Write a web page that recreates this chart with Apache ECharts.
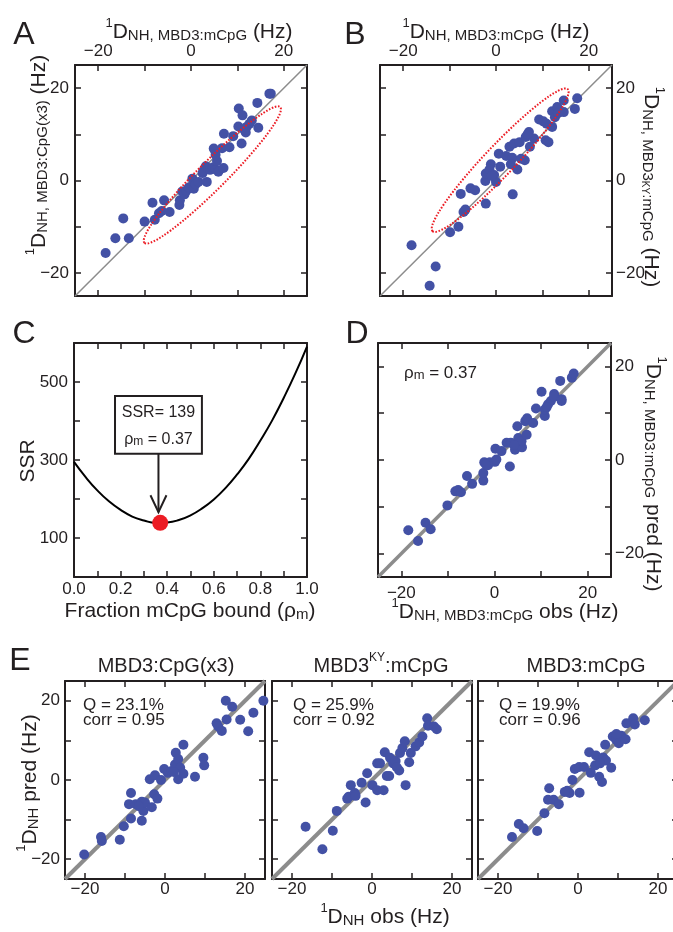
<!DOCTYPE html>
<html><head><meta charset="utf-8">
<script src="https://cdn.jsdelivr.net/npm/echarts@6/dist/echarts.min.js"></script>
<style>html,body{margin:0;padding:0;background:#fff}#c{width:673px;height:932px}</style>
</head><body><div id="c"></div>
<script>
// ---------- data ----------
const hzTicks = [-20, -10, 0, 10, 20];
const hzLabels = [-20, 0, 20];
const fracTicks = [0, 0.1, 0.2, 0.3, 0.4, 0.5, 0.6, 0.7, 0.8, 0.9, 1.0];
const fracLabels = [0, 0.2, 0.4, 0.6, 0.8, 1.0];
const ssrTicks = [100, 200, 300, 400, 500];
const ssrLabels = [100, 300, 500];
const diag = [-25, 25];

// Panel A: x = 1D_NH MBD3:mCpG, y = 1D_NH MBD3:CpG(x3)
const panelA = [[-18.4,-15.7],[-16.3,-12.5],[-14.6,-8.2],[-13.4,-12.5],[-10.0,-8.9],[-8.3,-4.8],[-7.8,-8.5],[-6.9,-7.1],[-6.3,-6.6],[-5.8,-4.3],[-4.6,-6.8],[-2.5,-5.3],[-2.4,-4.3],[-1.9,-2.4],[-1.4,-3.0],[-1.0,-2.2],[-0.5,-1.5],[0.3,0.4],[0.6,-1.8],[1.0,-0.8],[1.6,-0.3],[2.5,1.6],[2.7,2.1],[3.2,3.1],[3.4,-0.3],[3.7,2.6],[4.1,2.3],[4.7,2.8],[5.3,2.4],[5.9,1.9],[7.0,2.7],[5.6,4.2],[4.9,6.9],[5.3,5.6],[6.7,7.0],[8.3,7.2],[7.1,10.1],[9.1,9.6],[10.9,8.0],[10.3,15.6],[11.1,14.1],[10.2,11.7],[11.8,10.4],[12.0,11.6],[12.6,12.3],[13.1,13.0],[14.5,11.4],[14.3,16.8],[16.9,18.8],[17.2,18.8],[11.5,11.0]];
// Panel B: x = 1D_NH MBD3:mCpG, y = 1D_NH MBD3KY:mCpG
const panelB = [[-18.2,-14.0],[-13.0,-18.6],[-14.3,-22.8],[-9.9,-11.2],[-8.1,-10.0],[-7.0,-6.8],[-6.6,-6.3],[-7.6,-2.9],[-5.5,-1.7],[-4.5,-2.1],[-2.2,-5.0],[-2.3,-0.1],[-2.2,1.5],[-1.1,3.5],[-1.4,2.4],[-0.4,1.2],[0.0,-0.3],[-0.9,1.0],[0.9,3.0],[0.6,5.8],[2.2,5.3],[3.5,4.9],[3.2,3.5],[4.6,2.4],[3.6,-3.0],[6.2,4.4],[5.4,4.7],[2.9,7.3],[3.9,8.0],[5.1,8.3],[6.4,9.4],[7.1,10.5],[8.2,9.1],[7.3,7.3],[9.3,13.2],[10.2,12.8],[10.9,12.3],[10.7,8.7],[11.3,8.3],[12.1,11.6],[12.1,15.0],[13.2,15.9],[12.7,13.7],[13.4,14.6],[14.6,17.3],[14.6,14.8],[17.0,15.5],[17.5,17.8],[6.8,10.0]];
// Panel C: SSR vs fraction mCpG bound
const rho = [0, 0.05, 0.1, 0.15, 0.2, 0.25, 0.3, 0.35, 0.4, 0.45, 0.5, 0.55, 0.6, 0.65, 0.7, 0.75, 0.8, 0.85, 0.9, 0.95, 1.0];
const ssr = [295, 256, 222, 194, 172, 155, 145, 139, 140, 146, 158, 176, 199, 228, 263, 303, 350, 401, 459, 522, 591];
const bestRho = 0.37;
const bestSSR = 139;
// Panel D: obs vs pred
const panelD = [[-18.5,-15.0],[-16.4,-17.3],[-14.8,-13.4],[-13.7,-14.8],[-10.1,-9.7],[-8.4,-6.7],[-7.8,-6.4],[-7.2,-6.9],[-5.9,-3.4],[-4.8,-5.1],[-2.4,-4.4],[-2.4,-2.8],[-2.2,-0.5],[-1.4,-1.1],[-1.0,-0.5],[-1.8,-1.0],[0.1,-0.4],[0.4,0.1],[0.2,2.4],[1.5,1.9],[3.3,-1.4],[2.6,3.7],[3.5,3.7],[4.4,2.2],[5.1,4.7],[4.9,7.2],[5.9,2.7],[5.8,4.0],[4.2,3.2],[6.9,5.4],[6.6,8.3],[7.0,8.9],[8.3,7.9],[8.9,11.0],[10.1,14.6],[10.8,9.4],[10.8,10.8],[11.5,11.9],[12.1,12.6],[12.8,14.1],[12.8,13.5],[14.4,13.0],[14.4,12.6],[14.1,16.9],[16.6,17.6],[17.0,18.5],[11.2,11.3]];
// Panel E
const panelE1 = [[-20.2,-18.8],[-16.0,-14.4],[-15.8,-15.4],[-11.3,-15.1],[-10.3,-11.7],[-8.5,-9.7],[-8.5,-3.3],[-9.0,-6.1],[-7.3,-6.1],[-5.8,-5.5],[-5.8,-10.3],[-5.4,-7.8],[-5.0,-5.7],[-6.5,-6.6],[-3.3,-6.9],[-3.8,0.2],[-2.5,1.2],[-2.7,-3.6],[-1.9,-4.7],[-1.0,0.0],[-0.2,2.8],[0.7,1.8],[1.7,2.3],[2.5,3.9],[2.7,6.9],[3.3,5.3],[3.3,0.2],[3.8,3.1],[4.6,8.9],[4.6,1.6],[2.2,2.0],[7.5,0.8],[9.6,5.6],[9.8,3.7],[12.9,14.3],[13.3,13.5],[14.2,12.4],[15.4,15.3],[15.2,20.0],[16.8,18.5],[18.8,15.2],[20.8,12.3],[22.1,17.0],[24.6,20.0]];
const panelE2 = [[-16.6,-11.8],[-12.4,-17.5],[-9.8,-12.8],[-8.8,-7.8],[-6.2,-4.7],[-5.8,-4.2],[-5.3,-1.3],[-4.3,-3.3],[-4.1,-4.0],[-2.6,-0.7],[-1.6,-5.7],[-1.2,1.7],[0.1,-1.3],[1.3,-2.6],[2.9,-2.6],[1.3,4.2],[3.2,7.0],[3.7,1.0],[4.3,1.0],[4.5,5.6],[5.3,4.2],[5.9,4.8],[6.8,2.4],[7.0,6.8],[7.6,8.1],[8.2,9.8],[8.4,-1.3],[9.3,4.5],[9.7,6.8],[10.9,8.5],[11.8,9.5],[12.6,11.0],[13.8,15.6],[14.0,13.7],[15.5,13.5],[16.2,12.8],[2.0,4.2],[6.2,3.2]];
const panelE3 = [[-16.5,-14.4],[-14.8,-11.1],[-13.6,-12.2],[-10.2,-12.9],[-8.4,-8.4],[-7.2,-2.1],[-7.5,-5.0],[-6.1,-5.0],[-4.8,-6.1],[-2.7,-2.7],[-2.1,-3.3],[-1.4,0.0],[-0.8,2.8],[0.3,3.3],[0.4,-3.2],[1.5,3.3],[2.8,7.0],[3.2,1.8],[4.3,3.7],[4.5,6.2],[5.3,0.8],[6.0,-0.5],[6.3,5.7],[6.8,8.9],[7.0,4.9],[8.3,3.1],[8.7,11.0],[9.5,10.2],[10.2,9.3],[10.8,11.2],[11.9,10.3],[12.1,14.3],[13.8,15.6],[14.2,14.0],[16.7,15.1],[5.5,4.2],[9.6,11.6],[-3.3,-3.0]];
const eTitles = ['MBD3:CpG(x3)', 'MBD3KY:mCpG', 'MBD3:mCpG'];
const eQ = ['23.1%', '25.9%', '19.9%'];
const eCorr = ['0.95', '0.92', '0.96'];
// ellipse centres (data units) in panels A and B
const ellipseA = [4.6, 1.2];
const ellipseB = [0.9, 4.4];

// ---------- styles ----------
const FONT = "'Liberation Sans', Arial, Helvetica, sans-serif";
const INK = '#231f20';
const DOT = '#4351a5';
const GRAY = '#8c8c8c';
const RED = '#ec1c24';

function tok(size, lh, va) { return {fontSize: size, lineHeight: lh, verticalAlign: va, fontFamily: FONT, fill: INK}; }
const RICH = {
  sup: tok(13, 13, 'top'),
  m: tok(21, 26, 'bottom'),
  s: tok(15, 18, 'bottom'),
  ky: tok(10, 26, 'bottom'),
  t: tok(16, 20, 'bottom'),
  ts: tok(12, 16, 'bottom'),
  q: tok(17, 20, 'bottom'),
  qs: tok(13, 16, 'bottom'),
  e: tok(20, 24, 'bottom'),
  esup: tok(12, 12, 'top'),
  L: tok(32, 36, 'bottom')
};

const fmtHz = v => (v < 0 ? '\u2212' : '') + Math.abs(v);
const fmtFrac = v => v.toFixed(1);

function axis(g, pos, min, max, ticks, labels, labeled, fmt, margin) {
  return {
    type: 'value', gridIndex: g, position: pos, min: min, max: max,
    axisLine: {show: true, onZero: false, lineStyle: {color: INK, width: 2}},
    axisTick: {show: true, inside: true, length: 6, lineStyle: {color: INK, width: 1.5}, customValues: ticks},
    axisLabel: {show: labeled, customValues: labels, fontSize: 17, color: INK, fontFamily: FONT, margin: margin, formatter: fmt},
    splitLine: {show: false}
  };
}
function hz(g, pos, labeled, margin) { return axis(g, pos, -25, 25, hzTicks, hzLabels, labeled, fmtHz, margin); }

const grids = [
  {left: 75, top: 65, width: 232, height: 231},
  {left: 380, top: 65, width: 232, height: 231},
  {left: 74, top: 343, width: 233, height: 234},
  {left: 378, top: 343, width: 233, height: 234},
  {left: 65, top: 681, width: 200, height: 198},
  {left: 272, top: 681, width: 200, height: 198},
  {left: 478, top: 681, width: 200, height: 198}
].map(g => Object.assign(g, {containLabel: false, outerBoundsMode: 'none'}));

const xAxes = [
  hz(0, 'top', true, 5), hz(0, 'bottom', false, 0),
  hz(1, 'top', true, 5), hz(1, 'bottom', false, 0),
  axis(2, 'bottom', 0, 1, fracTicks, fracLabels, true, fmtFrac, 4), axis(2, 'top', 0, 1, fracTicks, fracLabels, false, fmtFrac, 0),
  hz(3, 'bottom', true, 8), hz(3, 'top', false, 0),
  hz(4, 'bottom', true, 2), hz(4, 'top', false, 0),
  hz(5, 'bottom', true, 2), hz(5, 'top', false, 0),
  hz(6, 'bottom', true, 2), hz(6, 'top', false, 0)
];
const yAxes = [
  hz(0, 'left', true, 6), hz(0, 'right', false, 0),
  hz(1, 'right', true, 4), hz(1, 'left', false, 0),
  axis(2, 'left', 0, 600, ssrTicks, ssrLabels, true, v => String(v), 6), axis(2, 'right', 0, 600, ssrTicks, ssrLabels, false, v => String(v), 0),
  hz(3, 'right', true, 4), hz(3, 'left', false, 0),
  hz(4, 'left', true, 5), hz(4, 'right', false, 0),
  hz(5, 'left', false, 0), hz(5, 'right', false, 0),
  hz(6, 'left', false, 0), hz(6, 'right', false, 0)
];

function diagSeries(g, width) {
  return {type: 'line', xAxisIndex: 2 * g, yAxisIndex: 2 * g, data: diag.map(v => [v, v]), symbol: 'none', silent: true,
    lineStyle: {color: GRAY, width: width}, z: 1};
}
function dots(g, data) {
  return {type: 'scatter', xAxisIndex: 2 * g, yAxisIndex: 2 * g, data: data, symbol: 'circle', symbolSize: 10,
    itemStyle: {color: DOT, opacity: 1}, z: 3};
}

const series = [
  diagSeries(0, 1.5), dots(0, panelA),
  diagSeries(1, 1.5), dots(1, panelB),
  {type: 'line', xAxisIndex: 4, yAxisIndex: 4, data: rho.map((r, i) => [r, ssr[i]]), smooth: true, symbol: 'none',
    lineStyle: {color: '#000', width: 2}, z: 2},
  {type: 'scatter', xAxisIndex: 4, yAxisIndex: 4, data: [[bestRho, bestSSR]], symbolSize: 16, itemStyle: {color: RED, opacity: 1}, z: 4},
  diagSeries(3, 3.5), dots(3, panelD),
  diagSeries(4, 4), dots(4, panelE1),
  diagSeries(5, 4), dots(5, panelE2),
  diagSeries(6, 4), dots(6, panelE3)
];

const chart = echarts.init(document.getElementById('c'), null, {renderer: 'canvas', width: 673, height: 932});
chart.setOption({
  animation: false,
  backgroundColor: '#fff',
  textStyle: {fontFamily: FONT},
  grid: grids, xAxis: xAxes, yAxis: yAxes, series: series
});

function txt(x, y, text, rot, align) {
  return {type: 'text', x: x, y: y, rotation: rot || 0, z: 100,
    style: {text: text, rich: RICH, align: align || 'center', verticalAlign: 'middle', fill: INK, fontFamily: FONT, fontSize: 16}};
}

const P = (si, x, y) => chart.convertToPixel({seriesIndex: si}, [x, y]);
const gfx = [];
// panel letters
gfx.push(txt(24, 33, '{L|A}'), txt(355, 33, '{L|B}'), txt(24, 332, '{L|C}'), txt(357, 332, '{L|D}'), txt(20, 659, '{L|E}'));
// axis titles
gfx.push(txt(199, 30, '{sup|1}{m|D}{s|NH, MBD3:mCpG}{m| (Hz)}'));
gfx.push(txt(37, 155, '{sup|1}{m|D}{s|NH, MBD3:CpG(x3)}{m| (Hz)}', Math.PI / 2));
gfx.push(txt(496, 30, '{sup|1}{m|D}{s|NH, MBD3:mCpG}{m| (Hz)}'));
gfx.push(txt(653, 187, '{sup|1}{m|D}{s|NH, MBD3}{ky|KY}{s|:mCpG}{m| (Hz)}', -Math.PI / 2));
gfx.push(txt(190, 609, '{m|Fraction mCpG bound (\u03c1}{s|m}{m|)}'));
gfx.push(txt(26, 461, '{m|SSR}', Math.PI / 2));
gfx.push(txt(505, 610, '{sup|1}{m|D}{s|NH, MBD3:mCpG}{m| obs (Hz)}'));
gfx.push(txt(655, 474, '{sup|1}{m|D}{s|NH, MBD3:mCpG}{m| pred (Hz)}', -Math.PI / 2));
gfx.push(txt(28, 783, '{sup|1}{m|D}{s|NH}{m| pred (Hz)}', Math.PI / 2));
gfx.push(txt(385, 915, '{sup|1}{m|D}{s|NH}{m| obs (Hz)}'));
// E titles and stats
const eCenters = [166, 381, 586];
const eLeft = [83, 293, 499];
gfx.push(txt(eCenters[0], 664, '{e|' + eTitles[0] + '}'));
gfx.push(txt(eCenters[1], 664, '{e|MBD3}{esup|KY}{e|:mCpG}'));
gfx.push(txt(eCenters[2], 664, '{e|' + eTitles[2] + '}'));
for (let i = 0; i < 3; i++) {
  gfx.push(txt(eLeft[i], 704, '{q|Q = ' + eQ[i] + '}', 0, 'left'));
  gfx.push(txt(eLeft[i], 719, '{q|corr = ' + eCorr[i] + '}', 0, 'left'));
}
// D annotation
gfx.push(txt(404, 372, '{q|\u03c1}{qs|m}{q| = ' + bestRho.toFixed(2) + '}', 0, 'left'));
// ellipses
const eA = P(1, ellipseA[0], ellipseA[1]);
const eB = P(3, ellipseB[0], ellipseB[1]);
const ellStyle = {fill: 'none', stroke: RED, lineWidth: 2, lineDash: [1.6, 1.6]};
gfx.push({type: 'ellipse', x: eA[0], y: eA[1], rotation: Math.PI / 4, shape: {cx: 0, cy: 0, rx: 96, ry: 14}, style: ellStyle, z: 50});
gfx.push({type: 'ellipse', x: eB[0], y: eB[1], rotation: 0.81, shape: {cx: 0, cy: 0, rx: 98, ry: 15}, style: ellStyle, z: 50});
// C annotation box + arrow
const bTL = P(4, 0.176, 464), bBR = P(4, 0.549, 316);
gfx.push({type: 'rect', shape: {x: bTL[0], y: bTL[1], width: bBR[0] - bTL[0], height: bBR[1] - bTL[1]},
  style: {fill: '#fff', stroke: INK, lineWidth: 2}, z: 60});
const bc = (bTL[0] + bBR[0]) / 2;
gfx.push(txt(bc, bTL[1] + 15, '{t|SSR= ' + bestSSR + '}'));
gfx.push(txt(bc, bTL[1] + 42, '{t|\u03c1}{ts|m}{t| = ' + bestRho.toFixed(2) + '}'));
const tip = P(4, 0.363, 166);
gfx.push({type: 'polyline', shape: {points: [[bc, bBR[1]], [bc, tip[1]]]}, style: {stroke: INK, lineWidth: 2, fill: 'none'}, z: 60});
gfx.push({type: 'polyline', shape: {points: [[bc - 8, tip[1] - 17], [bc, tip[1]], [bc + 8, tip[1] - 17]]}, style: {stroke: INK, lineWidth: 2, fill: 'none'}, z: 60});

chart.setOption({graphic: {elements: gfx}});
</script></body></html>
